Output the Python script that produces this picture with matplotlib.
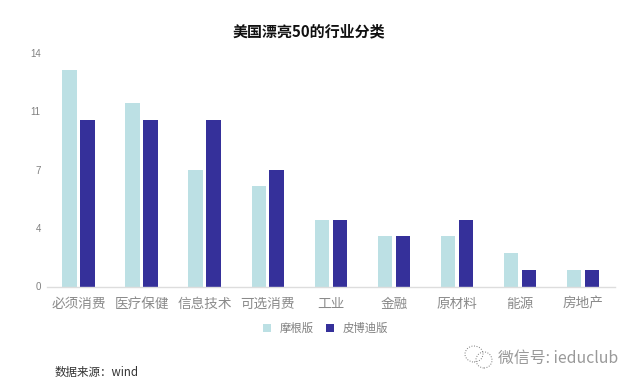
import matplotlib
matplotlib.use('Agg')
import matplotlib.pyplot as plt
from matplotlib.patches import Ellipse
import numpy as np

plt.rcParams['font.family'] = ['Noto Sans CJK SC', 'DejaVu Sans']

categories = ['必须消费', '医疗保健', '信息技术', '可选消费', '工业', '金融', '原材料', '能源', '房地产']
morgan = [13, 11, 7, 6, 4, 3, 3, 2, 1]
pictet = [10, 10, 10, 7, 4, 3, 4, 1, 1]
y_ticks = [0, 3.5, 7, 10.5, 14]
y_labels = ['0', '4', '7', '11', '14']

W, H = 640, 387
fig = plt.figure(figsize=(W / 100, H / 100), dpi=100)
ax = fig.add_axes([47 / W, 1 - 286.5 / H, 567.5 / W, 233.5 / H])

x = np.arange(len(categories))
width = 0.228
ax.bar(x - 0.142, morgan, width, color='#bce0e4', label='摩根版')
ax.bar(x + 0.142, pictet, width, color='#35309a', label='皮博迪版')

ax.set_xlim(-0.5, len(categories) - 0.5)
ax.set_ylim(0, 14)
ax.set_yticks(y_ticks)
ax.set_yticklabels(y_labels, fontsize=7, color='#808080', family='Liberation Sans')
ax.set_xticks(x)
ax.set_xticklabels(categories, fontsize=9.8, color='#8a8a8a')
ax.tick_params(axis='both', length=0)
ax.tick_params(axis='y', pad=4.5)
ax.tick_params(axis='x', pad=7.5)

for s in ['top', 'right', 'left']:
    ax.spines[s].set_visible(False)
ax.spines['bottom'].set_color('#dddddd')
ax.spines['bottom'].set_linewidth(1)

ax.legend(loc='center', bbox_to_anchor=(325.5 / W, 1 - 328.5 / H), bbox_transform=fig.transFigure,
          ncol=2, frameon=False, fontsize=8.2, labelcolor='#808080', handlelength=0.72, handleheight=0.72,
          handletextpad=0.7, columnspacing=1.1, borderpad=0)

fig.text(308.5 / W, 1 - 31 / H, '美国漂亮50的行业分类', fontsize=10.8, fontweight='bold',
         color='#111111', ha='center', va='center')
fig.text(55 / W, 1 - 372.5 / H, '数据来源：wind', fontsize=8.3, color='#333333', ha='left', va='center')
fig.text(498 / W, 1 - 358.5 / H, '微信号: ieduclub', fontsize=11.4, color='#999999', ha='left', va='center')

# watermark icon
for cx, cy, rx, ry in [(474, 354, 9, 8), (484, 360, 8, 8)]:
    fig.add_artist(Ellipse((cx / W, 1 - cy / H), 2 * rx / W, 2 * ry / H, transform=fig.transFigure, fill=False,
                           edgecolor='#777777', linewidth=0.7, linestyle=':'))

fig.savefig('out.png', dpi=100)
